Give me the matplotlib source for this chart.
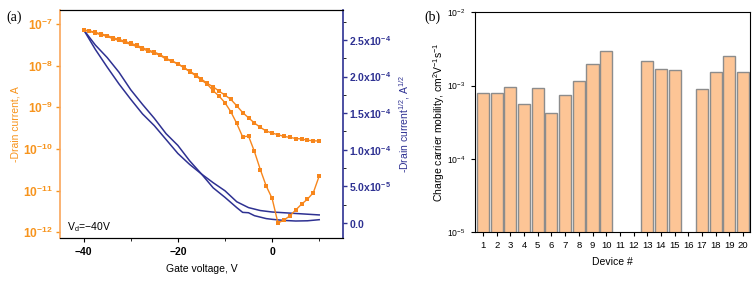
import numpy as np
import matplotlib
matplotlib.use("Agg")
import matplotlib.pyplot as plt
from matplotlib.ticker import FuncFormatter, FixedLocator, MultipleLocator

plt.rcParams['font.family'] = ['Liberation Sans', 'DejaVu Sans']
plt.rcParams['mathtext.fontset'] = 'custom'
plt.rcParams['mathtext.rm'] = 'Liberation Sans'
plt.rcParams['mathtext.it'] = 'Liberation Sans:italic'
plt.rcParams['mathtext.bf'] = 'Liberation Sans:bold'

# ---- panel (a): transfer curves ----
gate_v = [-40, -38.75, -37.5, -36.25, -35, -33.75, -32.5, -31.25, -30, -28.75,
          -27.5, -26.25, -25, -23.75, -22.5, -21.25, -20, -18.75, -17.5, -16.25,
          -15, -13.75, -12.5, -11.25, -10, -8.75, -7.5, -6.25, -5, -3.75,
          -2.5, -1.25, 0, 1.25, 2.5, 3.75, 5, 6.25, 7.5, 8.75, 10]

# |Id| (A), two sweep directions
id_upper = [7.18e-8, 6.68e-8, 6.08e-8, 5.53e-8, 5.06e-8, 4.44e-8, 4.06e-8, 3.63e-8, 3.25e-8, 2.91e-8,
            2.55e-8, 2.24e-8, 2.01e-8, 1.77e-8, 1.44e-8, 1.27e-8, 1.11e-8, 9.1e-9, 7.4e-9, 6.05e-9,
            4.76e-9, 3.75e-9, 3.11e-9, 2.45e-9, 1.96e-9, 1.55e-9, 1.09e-9, 7.5e-10, 5.6e-10, 4.2e-10,
            3.3e-10, 2.7e-10, 2.4e-10, 2.2e-10, 2.0e-10, 1.9e-10, 1.78e-10, 1.74e-10, 1.62e-10, 1.57e-10,
            1.55e-10]
id_lower = [7.18e-8, 6.9e-8, 6.3e-8, 5.8e-8, 5.3e-8, 4.7e-8, 4.3e-8, 3.85e-8, 3.45e-8, 3.1e-8,
            2.7e-8, 2.38e-8, 2.12e-8, 1.85e-8, 1.5e-8, 1.3e-8, 1.12e-8, 9.0e-9, 7.2e-9, 5.8e-9,
            4.5e-9, 3.6e-9, 2.5e-9, 1.86e-9, 1.29e-9, 7.8e-10, 4.1e-10, 1.95e-10, 2.04e-10, 8.7e-11,
            3.2e-11, 1.29e-11, 6.5e-12, 1.66e-12, 1.95e-12, 2.45e-12, 3.4e-12, 4.7e-12, 6.2e-12, 8.9e-12,
            2.24e-11]

# sqrt(|Id|) (A^1/2)
sq_v = [-40, -37.5, -35, -32.5, -30, -27.5, -25, -22.5, -20, -17.5, -15,
        -12.5, -10, -7.5, -6.25, -5, -3.75, -2.5, -1.25, 0, 2.5, 5, 7.5, 10]
sq_a = [2.64e-4, 2.43e-4, 2.26e-4, 2.06e-4, 1.82e-4, 1.62e-4, 1.43e-4, 1.22e-4, 1.06e-4, 0.85e-4, 0.67e-4,
        0.48e-4, 0.35e-4, 0.21e-4, 0.145e-4, 0.14e-4, 0.10e-4, 0.08e-4, 0.06e-4, 0.05e-4, 0.035e-4, 0.027e-4, 0.03e-4, 0.045e-4]
sq_b = [2.64e-4, 2.37e-4, 2.13e-4, 1.90e-4, 1.69e-4, 1.49e-4, 1.33e-4, 1.14e-4, 0.95e-4, 0.80e-4, 0.67e-4,
        0.55e-4, 0.44e-4, 0.29e-4, 0.25e-4, 0.21e-4, 0.19e-4, 0.17e-4, 0.16e-4, 0.15e-4, 0.14e-4, 0.13e-4, 0.12e-4, 0.11e-4]

# ---- panel (b): mobility per device ----
devices = list(range(1, 21))
mobility = [7.85e-4, 8.0e-4, 9.7e-4, 5.56e-4, 9.2e-4, 4.28e-4, 7.5e-4, 1.15e-3, 1.95e-3, 3.0e-3,
            np.nan, np.nan, 2.15e-3, 1.67e-3, 1.62e-3, np.nan, 8.9e-4, 1.55e-3, 2.51e-3, 1.55e-3]

orange = '#f7861c'
orange_txt = '#f7941d'
navy = '#2e3192'
bar_fill = '#fdc596'
bar_edge = '#8c8c8c'
fs = 7.5

fig = plt.figure(figsize=(7.56, 2.84), dpi=100)
ax1 = fig.add_axes([0.0794, 0.162, 0.374, 0.803])
ax2 = ax1.twinx()

ax1.set_zorder(ax2.get_zorder() + 1)
ax1.patch.set_visible(False)

ax1.plot(gate_v, id_upper, color=orange, marker='s', ms=3.2, lw=1.0, mew=0)
ax1.plot(gate_v, id_lower, color=orange, marker='s', ms=3.2, lw=1.0, mew=0)
ax1.set_yscale('log')
ax1.set_ylim(10**-12.14, 10**-6.66)
ax1.set_xlim(-45, 15)
ax1.xaxis.set_major_locator(FixedLocator([-40, -20, 0]))
ax1.xaxis.set_minor_locator(FixedLocator([-30, -10, 10]))
ax1.yaxis.set_major_locator(FixedLocator([1e-12, 1e-11, 1e-10, 1e-9, 1e-8, 1e-7]))
ax1.yaxis.set_minor_locator(FixedLocator([]))
ax1.yaxis.set_major_formatter(FuncFormatter(lambda v, p: r'$\mathbf{10^{%d}}$' % round(np.log10(v))))
ax1.tick_params(axis='y', colors=orange_txt, labelsize=8.7, length=3, width=1, pad=2)
ax1.tick_params(axis='x', labelsize=fs, length=3)
ax1.tick_params(axis='x', which='minor', length=2)
for lab in ax1.get_xticklabels():
    lab.set_fontweight('bold')
ax1.set_ylabel('-Drain current, A', color=orange_txt, fontsize=fs, labelpad=2)
ax1.set_xlabel('Gate voltage, V', fontsize=fs, labelpad=5)
ax1.spines['left'].set_color('#f9a55a')
ax1.spines['left'].set_linewidth(1.2)
ax1.spines['right'].set_visible(False)
ax1.text(-43.5, 10**-11.95, r'V$_\mathrm{d}$=−40V', fontsize=fs)

ax2.plot(sq_v, sq_a, color=navy, lw=1.1)
ax2.plot(sq_v, sq_b, color=navy, lw=1.1)
ax2.set_ylim(-2.05e-5, 2.91e-4)
ax2.yaxis.set_major_locator(MultipleLocator(5e-5))
ax2.yaxis.set_minor_locator(MultipleLocator(2.5e-5))


def sci_fmt(v, p):
    if abs(v) < 1e-12:
        return r'$\mathbf{0.0}$'
    exp = int(np.floor(np.log10(abs(v))))
    return r'$\mathbf{%.1fx10^{%d}}$' % (v / 10**exp, exp)


ax2.yaxis.set_major_formatter(FuncFormatter(sci_fmt))
ax2.tick_params(axis='y', colors=navy, labelsize=fs, length=3, width=1, pad=1.5)
ax2.tick_params(axis='y', which='minor', length=2)
ax2.spines['right'].set_color(navy)
ax2.spines['right'].set_linewidth(1.2)
ax2.spines['left'].set_visible(False)
ax2.set_ylabel(r'-Drain current$^{1/2}$, A$^{1/2}$', color=navy, fontsize=fs, labelpad=4)

# panel (b)
ax3 = fig.add_axes([0.628, 0.182, 0.364, 0.775])
ax3.bar(devices, mobility, width=0.88, color=bar_fill, edgecolor=bar_edge, lw=1.0)
ax3.set_yscale('log')
ax3.set_ylim(1e-5, 1e-2)
ax3.set_xlim(0.4, 20.5)
ax3.set_xticks(devices)
ax3.yaxis.set_minor_locator(FixedLocator([]))
ax3.tick_params(axis='both', labelsize=6.8, length=3)
ax3.tick_params(axis='y', labelsize=6.2)
ax3.set_ylabel('Charge carrier mobility, cm$^2$V$^{-1}$s$^{-1}$', fontsize=fs, labelpad=0)
ax3.set_xlabel('Device #', fontsize=fs, labelpad=5)

fig.text(0.009, 0.925, '(a)', fontsize=10, family='Liberation Serif')
fig.text(0.561, 0.925, '(b)', fontsize=10, family='Liberation Serif')

fig.savefig('out.png', dpi=100)
